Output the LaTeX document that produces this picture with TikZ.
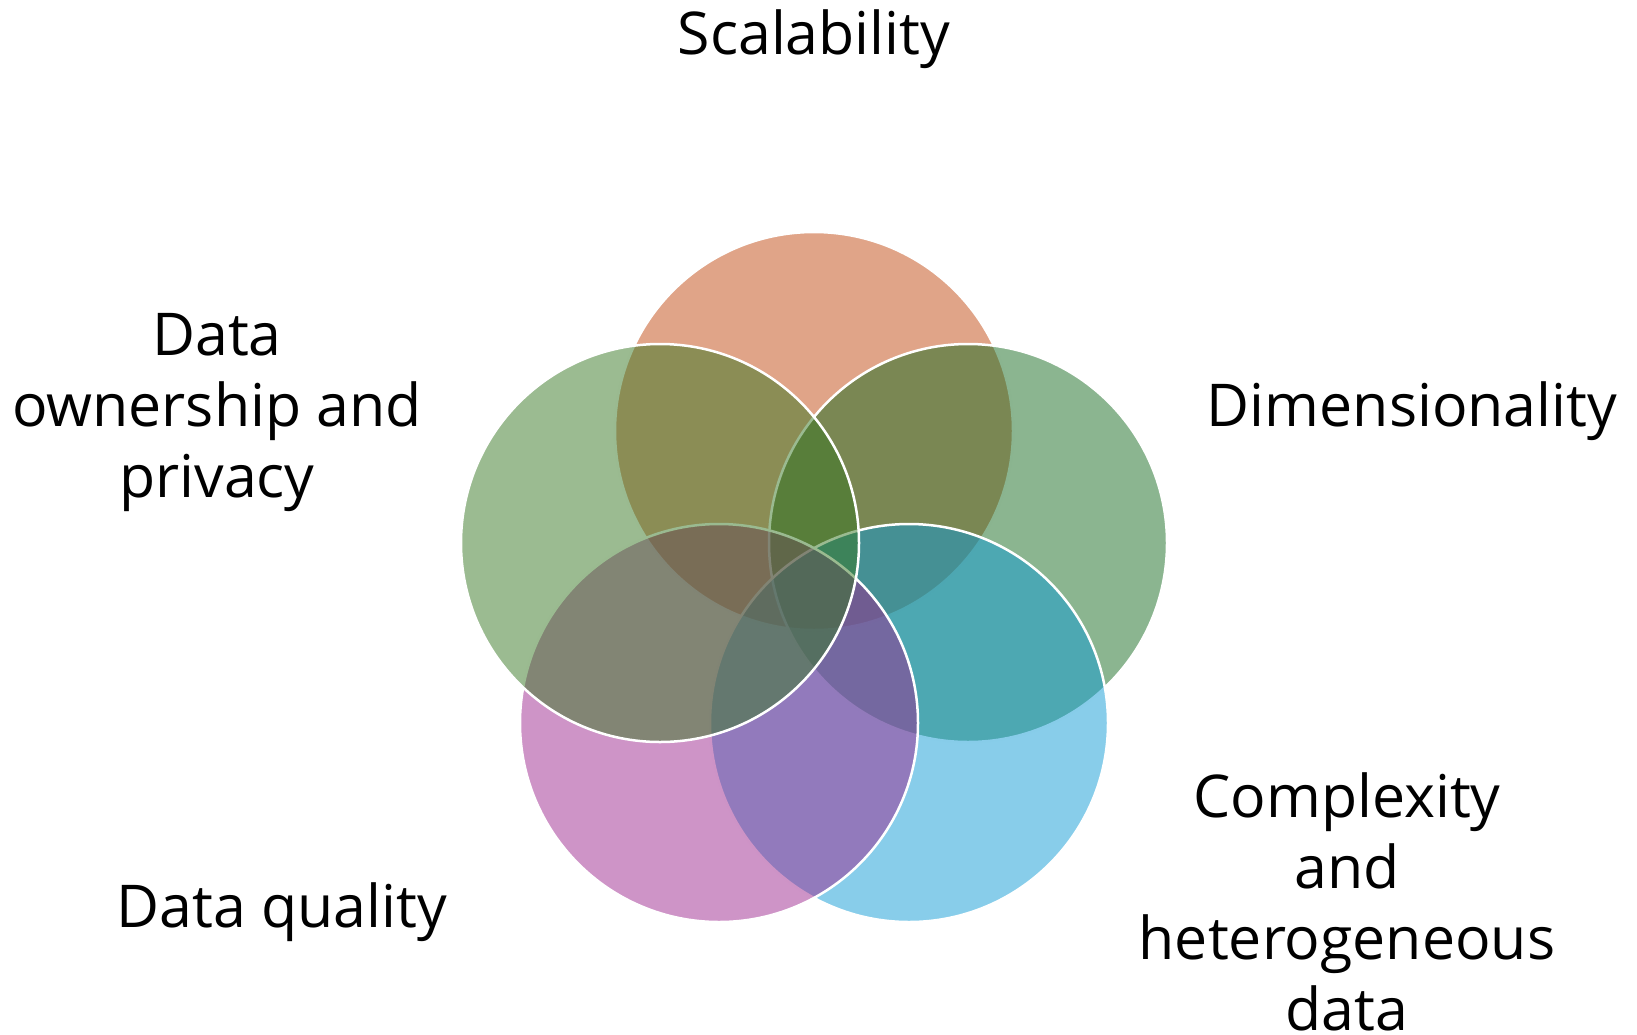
\documentclass[tikz,border=0pt]{standalone}
\usepackage{fontspec}
\setmainfont{Open Sans}
\definecolor{cTop}{RGB}{193,73,17}
\definecolor{cRight}{RGB}{23,107,33}
\definecolor{cBlue}{RGB}{17,155,213}
\definecolor{cPink}{RGB}{157,41,143}
\definecolor{cLeft}{RGB}{55,119,35}
\begin{document}
\begin{tikzpicture}[x=1pt,y=-1pt,
  venn/.style={circle, draw=white, line width=2.5pt, fill opacity=0.5, minimum size=398pt, inner sep=0pt},
  lbl/.style={font=\fontsize{59}{71}\selectfont, inner sep=0pt, align=center, text=black}]
\useasboundingbox (0,0) rectangle (1637,1034);
\node[venn, fill=cTop]   (top)   at (814,431) {};
\node[venn, fill=cRight] (right) at (968,543) {};
\node[venn, fill=cBlue]  (blue)  at (909,723) {};
\node[venn, fill=cPink]  (pink)  at (719,723) {};
\node[venn, fill=cLeft]  (left)  at (660,543) {};
\node[lbl, anchor=base] (tScal) at (814,54) {Scalability};
\node[lbl, anchor=base] (tDim) at (1412,426) {Dimensionality};
\node[lbl, anchor=base] (tQual) at (282,927) {Data quality};
\node[lbl, anchor=base] (tOwn) at (217,497) {Data\\ownership and\\privacy};
\node[lbl, anchor=base] (tComp) at (1347,1030) {Complexity\\and\\heterogeneous\\data};
\end{tikzpicture}
\end{document}
